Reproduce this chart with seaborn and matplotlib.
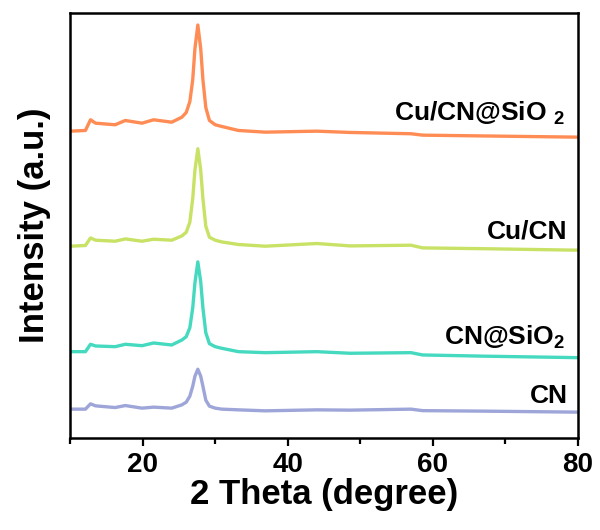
import numpy as np
import pandas as pd
import matplotlib
matplotlib.use("Agg")
import matplotlib.pyplot as plt
import seaborn as sns

# 2 theta positions (degree)
two_theta = [10, 12.1, 12.8, 13.5, 16.2, 17.6, 19.9, 21.5, 24.0, 25.4, 26.0, 26.5, 26.9, 27.2,
             27.6, 28.0, 28.3, 28.7, 29.2, 30.0, 30.9, 33.2, 36.9, 44.0, 48.6, 57.0, 58.6, 67.0, 80.0]

# intensities (a.u.), baseline near 0
cu_cn_sio2 = [6.3, 7, 17.7, 14.3, 12.7, 17, 14.3, 17.7, 15.3, 20.3, 25, 36, 58, 89,
              112.7, 89, 58, 30, 17, 12.7, 11, 7, 5.3, 6.3, 5, 3.7, 2.3, 1.5, 0.3]
cu_cn = [4, 4.7, 12.3, 10, 9, 11.3, 9, 11, 10, 14.3, 18, 28, 52, 80,
         101.7, 80, 52, 24, 13, 10, 8.3, 5.7, 4, 6.7, 4.3, 5, 2.3, 1.5, 0]
cn_sio2 = [6, 6, 13.4, 11.7, 11, 13.4, 12, 14.7, 12.7, 17.7, 21, 30, 50, 75,
           96, 76, 50, 25, 14, 11, 9.4, 6, 5, 6, 4.4, 5, 2.7, 1.5, 0]
cn = [3, 3, 8.3, 6.3, 4.6, 6.6, 4, 5, 4, 7.3, 10, 16, 26, 36,
      43, 36, 26, 12, 6, 4, 3, 2.3, 1.3, 2.3, 2, 3, 1.5, 1, 0]

names = ["CN", "CN@SiO$_{2}$", "Cu/CN", "Cu/CN@SiO $_{2}$"]
series = [cn, cn_sio2, cu_cn, cu_cn_sio2]
offsets = [25.7, 80.3, 188, 301]
colors = ["#9ea5d8", "#45d9c0", "#c8e266", "#ff8c55"]

sns.set_style("ticks")
plt.rcParams["font.family"] = ["Liberation Sans", "DejaVu Sans"]
plt.rcParams["font.weight"] = "bold"
plt.rcParams["mathtext.fontset"] = "custom"
plt.rcParams["mathtext.bf"] = "Liberation Sans:bold"
plt.rcParams["mathtext.rm"] = "Liberation Sans:bold"
plt.rcParams["mathtext.default"] = "bf"
plt.rcParams["text.color"] = "black"
plt.rcParams["axes.labelcolor"] = "black"
plt.rcParams["axes.edgecolor"] = "black"
plt.rcParams["xtick.color"] = "black"

fig = plt.figure(figsize=(6, 5.3), dpi=100)
ax = fig.add_axes([0.117, 0.174, 0.846, 0.802])

for name, vals, off, col in zip(names, series, offsets, colors):
    y = np.array(vals) + off
    sns.lineplot(x=two_theta, y=y, color=col, lw=2.4, ax=ax)

# sample labels
label_pos = [(78.6, 35), (78.2, 93), (78.6, 200), (78.2, 318)]
for name, (lx, ly) in zip(names, label_pos):
    ax.text(lx, ly, name, ha="right", va="baseline", fontsize=19, fontweight="bold", color="black")

ax.set_xlim(10, 80)
ax.set_ylim(0, 426)
ax.set_xticks([20, 40, 60, 80])
ax.set_xticks([10, 30, 50, 70], minor=True)
ax.set_yticks([])
ax.tick_params(axis="x", which="major", length=6, width=1.6, labelsize=20, pad=4, colors="black")
ax.tick_params(axis="x", which="minor", length=4, width=1.6, colors="black")
for lab in ax.get_xticklabels():
    lab.set_fontweight("bold")
for sp in ax.spines.values():
    sp.set_linewidth(1.8)
    sp.set_color("black")
    sp.set_visible(True)

ax.set_xlabel("2 Theta (degree)", fontsize=25, fontweight="bold", labelpad=0)
ax.set_ylabel("Intensity (a.u.)", fontsize=25, fontweight="bold", labelpad=14)

plt.savefig("out.png", dpi=100)
